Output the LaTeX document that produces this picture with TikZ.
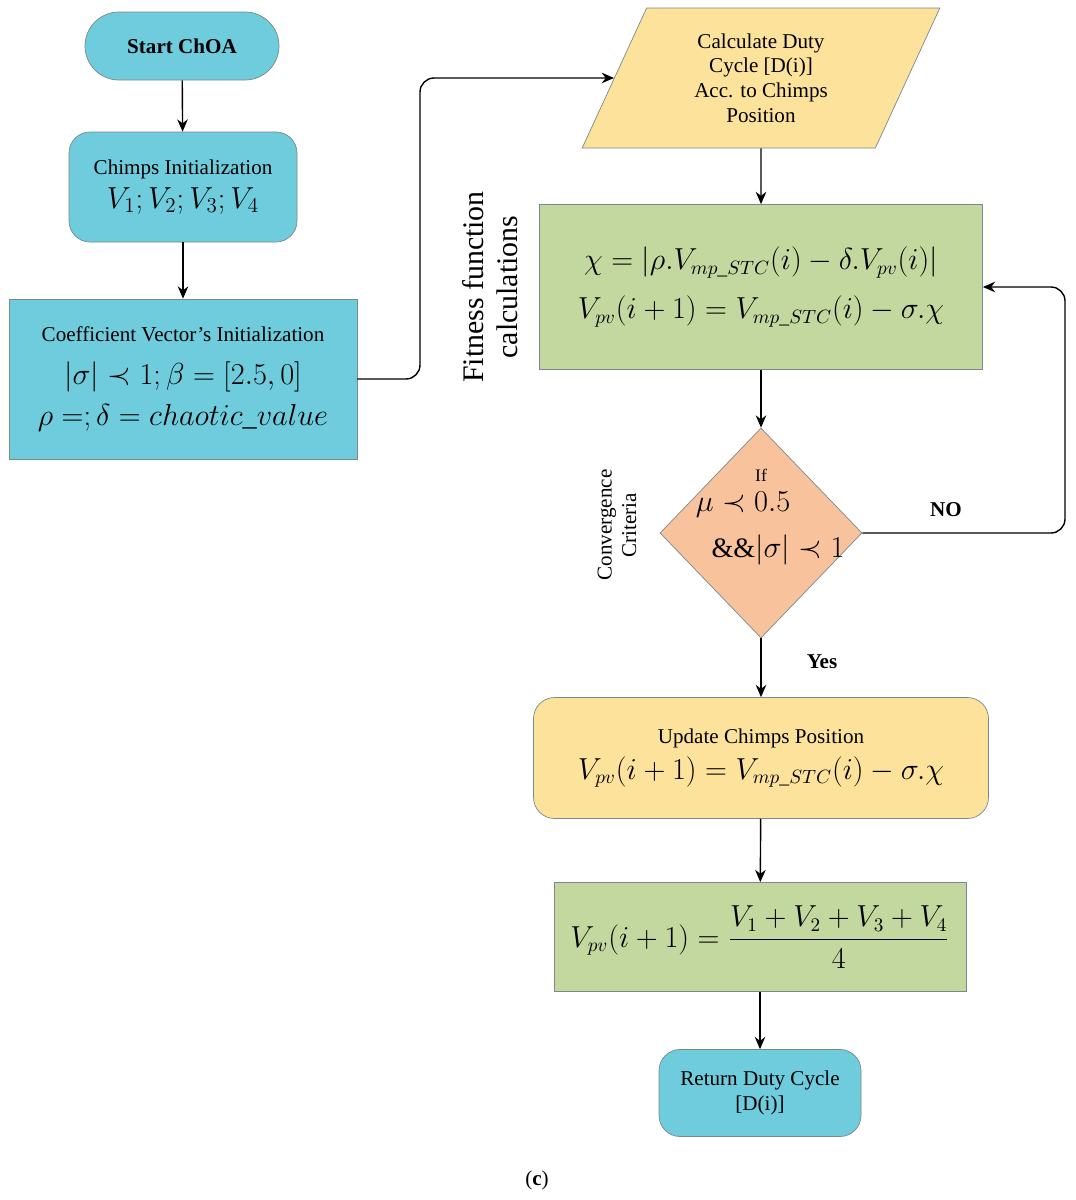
\documentclass[tikz,border=0pt]{standalone}
\usepackage{amsmath}
\usepackage{amssymb}
\usepackage{fontspec}
\setmainfont{Liberation Serif}
\usetikzlibrary{shapes.geometric,arrows.meta}
\definecolor{cyanbox}{HTML}{6ECCDD}
\definecolor{yellowbox}{HTML}{FCE29B}
\definecolor{greenbox}{HTML}{C3D89F}
\definecolor{orangebox}{HTML}{F8C29C}
\definecolor{edgegray}{HTML}{7A8A8A}
\tikzset{
  box/.style={draw=edgegray, inner sep=0pt, align=center},
  txt/.style={font=\fontsize{12pt}{14pt}\selectfont},
  mth/.style={font=\fontsize{16pt}{22pt}\selectfont},
  arr/.style={-{Stealth[length=7pt,width=6pt]}, thick},
}
\begin{document}
\begin{tikzpicture}[x=0.02cm, y=-0.02cm]
  \useasboundingbox (0,0) rectangle (1075,1200);
  \node [box, fill=cyanbox, rounded corners=34*0.02cm, minimum width=194*0.02cm, minimum height=68*0.02cm, txt]
    (start) at (182,46) {\textbf{Start ChOA}};
  \node [box, fill=cyanbox, rounded corners=12pt, minimum width=228*0.02cm, minimum height=110*0.02cm]
    (init) at (183,187) {{\fontsize{12pt}{14pt}\selectfont Chimps Initialization}\\[4pt]
      {\fontsize{17pt}{20pt}\selectfont $V_1;V_2;V_3;V_4$}};
  \node [box, fill=cyanbox, minimum width=348*0.02cm, minimum height=160*0.02cm]
    (coef) at (183,379) {{\fontsize{12pt}{14pt}\selectfont Coefficient Vector's Initialization}\\[10pt]
      {\fontsize{16pt}{22pt}\selectfont $\lvert\sigma\rvert\prec 1;\beta=[2.5,0]$}\\[6pt]
      {\fontsize{16pt}{22pt}\selectfont $\rho=;\delta=chaotic\_value$}};
  \node [box, fill=yellowbox, trapezium, trapezium left angle=67, trapezium right angle=113,
    minimum width=358*0.02cm, minimum height=140*0.02cm, txt, trapezium stretches=true]
    (duty) at (761,78) {Calculate Duty\\Cycle [D(i)]\\Acc. to Chimps\\Position};
  \node [box, fill=greenbox, minimum width=443*0.02cm, minimum height=165*0.02cm, mth]
    (fit) at (761,287) {$\chi=\left\lvert\rho.V_{mp\_STC}(i)-\delta.V_{pv}(i)\right\rvert$\\[6pt]
      $V_{pv}(i+1)=V_{mp\_STC}(i)-\sigma.\chi$};
  \node [rotate=90, align=center, font=\fontsize{17pt}{19pt}\selectfont] (fitlbl) at (490,287)
    {Fitness function\\calculations};
  \node [box, fill=orangebox, diamond, minimum width=202*0.02cm, minimum height=210*0.02cm, aspect=0.96]
    (conv) at (761,533) {};
  \node [font=\fontsize{10pt}{12pt}\selectfont] (iflbl) at (761,475) {If};
  \node [mth] (cond1) at (743,505) {$\mu\prec 0.5$};
  \node [mth] (cond2) at (778,550) {$\&\&\lvert\sigma\rvert\prec 1$};
  \node [rotate=90, align=center, txt] (convlbl) at (617,525) {Convergence\\Criteria};
  \node [box, fill=yellowbox, rounded corners=12pt, minimum width=455*0.02cm, minimum height=121*0.02cm]
    (upd) at (761,758) {{\fontsize{12pt}{14pt}\selectfont Update Chimps Position}\\[4pt]
      {\fontsize{16pt}{22pt}\selectfont $V_{pv}(i+1)=V_{mp\_STC}(i)-\sigma.\chi$}};
  \node [box, fill=greenbox, minimum width=412*0.02cm, minimum height=109*0.02cm, mth]
    (avg) at (760,937) {$V_{pv}(i+1)=\dfrac{V_1+V_2+V_3+V_4}{4}$};
  \node [box, fill=cyanbox, rounded corners=12pt, minimum width=202*0.02cm, minimum height=87*0.02cm, txt]
    (ret) at (760,1093) {Return Duty Cycle\\{[D(i)]}};
  \node [txt] (caption) at (537,1180) {(\textbf{c})};
  \coordinate (c1) at (420,379);
  \coordinate (c2) at (420,78);
  \coordinate (c3) at (1065,533);
  \coordinate (c4) at (1065,287);
  % connectors
  \draw [arr] (start) -- (init);
  \draw [arr] (init) -- (coef);
  \draw [arr, rounded corners=8pt] (coef.east) -- (c1) -- (c2) -- (duty.west);
  \draw [arr] (duty.south) -- (fit.north);
  \draw [arr] (fit) -- (conv);
  \draw [arr, rounded corners=8pt] (conv.east) -- (c3) -- (c4) -- (fit.east);
  \node [font=\fontsize{12pt}{14pt}\selectfont\bfseries] (nolbl) at (946,510) {NO};
  \draw [arr] (conv) -- (upd);
  \node [font=\fontsize{12pt}{14pt}\selectfont\bfseries] (yeslbl) at (822,662) {Yes};
  \draw [arr] (upd) -- (avg);
  \draw [arr] (avg) -- (ret);
\end{tikzpicture}
\end{document}
